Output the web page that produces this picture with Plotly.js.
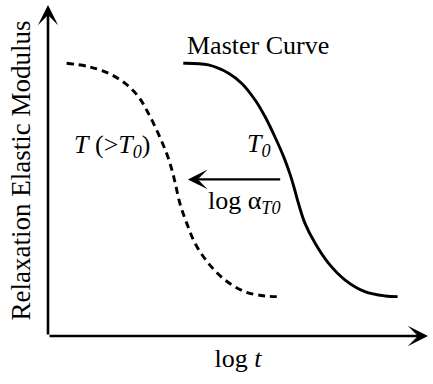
<!DOCTYPE html>
<html>
<head>
<meta charset="utf-8">
<script src="https://cdn.plot.ly/plotly-3.0.1.min.js"></script>
<style>
  html, body { margin: 0; padding: 0; background: #fff; }
  #chart { width: 433px; height: 384px; }
</style>
</head>
<body>
<div id="chart"></div>
<script>
// Master curve at reference temperature T0 (log t vs. relaxation modulus, arbitrary units)
const masterLogT = [3.56, 4.22, 4.75, 5.10, 5.45, 5.71, 5.97, 6.20, 6.36, 6.47, 6.59, 6.76, 7.03, 7.38, 7.82, 8.34, 8.87, 9.20];
const masterMod  = [8.24, 8.19, 7.94, 7.63, 7.13, 6.63, 6.02, 5.42, 4.92, 4.51, 4.01, 3.41, 2.80, 2.20, 1.69, 1.34, 1.21, 1.19];

// Curve measured at a higher temperature T (> T0)
const hotLogT = [0.49, 1.06, 1.59, 2.03, 2.38, 2.64, 2.90, 3.12, 3.26, 3.35, 3.47, 3.65, 3.87, 4.22, 4.66, 5.18, 5.71, 6.15];
const hotMod  = [8.24, 8.14, 7.94, 7.63, 7.23, 6.73, 6.12, 5.52, 5.02, 4.61, 4.01, 3.41, 2.80, 2.20, 1.69, 1.34, 1.21, 1.19];

// Horizontal shift log aT0 between the two curves
const shiftFrom = 6.15;
const shiftTo   = 3.68;
const shiftLevel = 4.73;

const serif = 'Liberation Serif, Times New Roman, serif';

const traces = [
  {
    x: masterLogT, y: masterMod, mode: 'lines', type: 'scatter',
    line: { color: '#000', width: 2.9, shape: 'spline', smoothing: 1 },
    hoverinfo: 'skip', showlegend: false
  },
  {
    x: hotLogT, y: hotMod, mode: 'lines', type: 'scatter',
    line: { color: '#000', width: 2.9, shape: 'spline', smoothing: 1, dash: '7px,5px' },
    hoverinfo: 'skip', showlegend: false
  }
];

const layout = {
  width: 433, height: 384,
  margin: { l: 48, r: 5, t: 5, b: 48 },
  paper_bgcolor: '#fff', plot_bgcolor: '#fff',
  font: { family: serif, color: '#000', size: 26 },
  xaxis: {
    range: [0, 10], showgrid: false, zeroline: false, showline: false,
    showticklabels: false, ticks: '', fixedrange: true,
    title: { text: 'log <i>t</i>', font: { family: serif, size: 26, color: '#000' }, standoff: 12 }
  },
  yaxis: {
    range: [0, 10], showgrid: false, zeroline: false, showline: false,
    showticklabels: false, ticks: '', fixedrange: true,
    title: { text: 'Relaxation Elastic Modulus', font: { family: serif, size: 27, color: '#000' }, standoff: 8 }
  },
  annotations: [
    // axes with arrowheads
    { x: 10, y: 0, ax: 0, ay: 0, xref: 'x', yref: 'y', axref: 'x', ayref: 'y',
      showarrow: true, arrowhead: 3, arrowsize: 1.3, arrowwidth: 2.6, arrowcolor: '#000', text: '' },
    { x: 0, y: 10, ax: 0, ay: 0, xref: 'x', yref: 'y', axref: 'x', ayref: 'y',
      showarrow: true, arrowhead: 3, arrowsize: 1.3, arrowwidth: 2.6, arrowcolor: '#000', text: '' },
    // shift arrow
    { x: shiftTo, y: shiftLevel, ax: shiftFrom, ay: shiftLevel, xref: 'x', yref: 'y', axref: 'x', ayref: 'y',
      showarrow: true, arrowhead: 3, arrowsize: 1.5, arrowwidth: 2.2, arrowcolor: '#000', text: '' },
    // labels
    { x: 5.53, y: 8.79, xref: 'x', yref: 'y', showarrow: false,
      text: 'Master Curve', font: { family: serif, size: 26, color: '#000' } },
    { x: 1.70, y: 5.74, xref: 'x', yref: 'y', showarrow: false,
      text: '<i>T</i> (&gt;<i>T<sub>0</sub></i>)', font: { family: serif, size: 26, color: '#000' } },
    { x: 5.55, y: 5.77, xref: 'x', yref: 'y', showarrow: false,
      text: '<i>T<sub>0</sub></i>', font: { family: serif, size: 26, color: '#000' } },
    { x: 5.18, y: 4.05, xref: 'x', yref: 'y', showarrow: false,
      text: 'log α<sub><i>T0</i></sub>', font: { family: serif, size: 26, color: '#000' } }
  ]
};

Plotly.newPlot('chart', traces, layout, { displayModeBar: false, staticPlot: true });
</script>
</body>
</html>
